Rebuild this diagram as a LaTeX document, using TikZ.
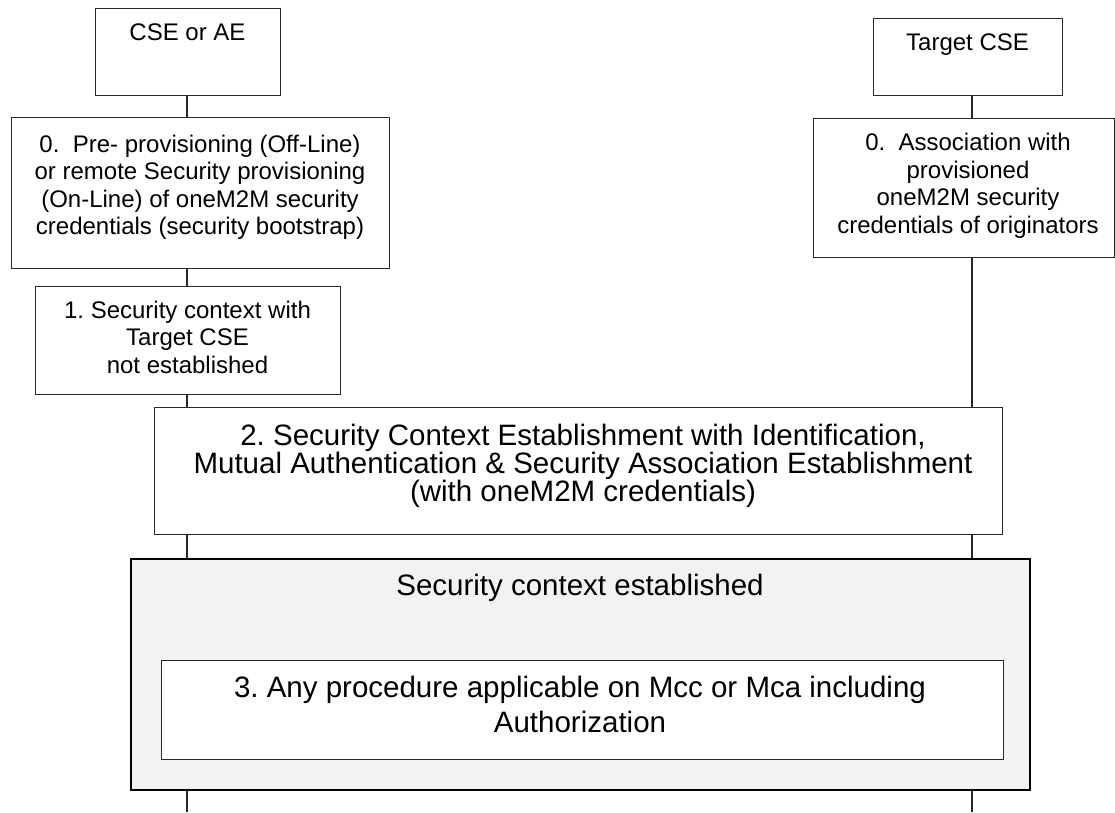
\documentclass[tikz,border=0pt]{standalone}
\usepackage{fontspec}
\setmainfont{Liberation Sans}
\usepackage{tikz}
\usetikzlibrary{positioning}
\frenchspacing
\tikzstyle{flowChart} = [x = 1pt, y = -1pt]
\definecolor{lineColor}{RGB}{40,40,40}
\definecolor{shadeColor}{RGB}{242,242,242}
\tikzstyle{stepBox} = [draw=lineColor, fill=white, line width=1.1pt, rectangle, inner sep=0pt, anchor=north west]
\tikzstyle{shadeBox} = [draw=black, fill=shadeColor, line width=1.6pt, rectangle, inner sep=0pt, anchor=north west]
\tikzstyle{smallText} = [font=\fontsize{24}{27.5}\selectfont, align=center, anchor=base, inner sep=0pt]
\tikzstyle{largeText} = [font=\fontsize{29.5}{28}\selectfont, align=center, anchor=base, inner sep=0pt]
\tikzstyle{lifeLine} = [color=lineColor, line width=1.1pt]
\newcommand{\lifeSegment}[3]{\draw [lifeLine] (#2 -| #1) -- (#3 -| #1);}

\begin{document}
\begin{tikzpicture}[flowChart]
  \useasboundingbox (0,0) rectangle (1115,812);
  \coordinate (lifeA) at (187,0);
  \coordinate (lifeB) at (972,0);
  \coordinate (endA) at (187,812);
  \coordinate (endB) at (972,812);

  \node [stepBox, minimum width=185pt, minimum height=87pt] (cseAe) at (95,8) {};
  \node [stepBox, minimum width=189pt, minimum height=77pt] (targetCse) at (873,18) {};
  \node [stepBox, minimum width=378pt, minimum height=151pt] (provisioning) at (11,117) {};
  \node [stepBox, minimum width=301pt, minimum height=139pt] (association) at (813,118) {};
  \node [stepBox, minimum width=305pt, minimum height=108pt] (notEstablished) at (35,286) {};
  \node [stepBox, minimum width=848pt, minimum height=127pt] (contextSetup) at (154,407) {};
  \node [shadeBox, minimum width=899pt, minimum height=231pt] (contextDone) at (130,558) {};
  \node [stepBox, minimum width=842pt, minimum height=99pt] (anyProcedure) at (161,660) {};

  \node [smallText] at (187.5,40) {CSE or AE};
  \node [smallText] at (967.5,50) {Target CSE};
  \node [smallText] at (200,234.5) {0.\ \ Pre- provisioning (Off-Line)\\or remote Security provisioning\\(On-Line) of oneM2M security\\credentials (security bootstrap)};
  \node [smallText] at (968,233) {0.\ \ Association with\\provisioned\\oneM2M security\\credentials of originators};
  \node [smallText] at (187.5,373) {1. Security context with\\Target CSE\\not established};
  \node [largeText] at (583,501) {2. Security Context Establishment with Identification,\\Mutual Authentication \& Security Association Establishment\\(with oneM2M credentials)};
  \node [largeText] at (580,595) {Security context established};
  \node [largeText, font=\fontsize{29.5}{35}\selectfont] at (580,732) {3. Any procedure applicable on Mcc or Mca including\\Authorization};

  \lifeSegment{lifeA}{cseAe.south}{provisioning.north}
  \lifeSegment{lifeA}{provisioning.south}{notEstablished.north}
  \lifeSegment{lifeA}{notEstablished.south}{contextSetup.north}
  \lifeSegment{lifeA}{contextSetup.south}{contextDone.north}
  \lifeSegment{lifeA}{contextDone.south}{endA}
  \lifeSegment{lifeB}{targetCse.south}{association.north}
  \lifeSegment{lifeB}{association.south}{contextSetup.north}
  \lifeSegment{lifeB}{contextSetup.south}{contextDone.north}
  \lifeSegment{lifeB}{contextDone.south}{endB}
\end{tikzpicture}
\end{document}
